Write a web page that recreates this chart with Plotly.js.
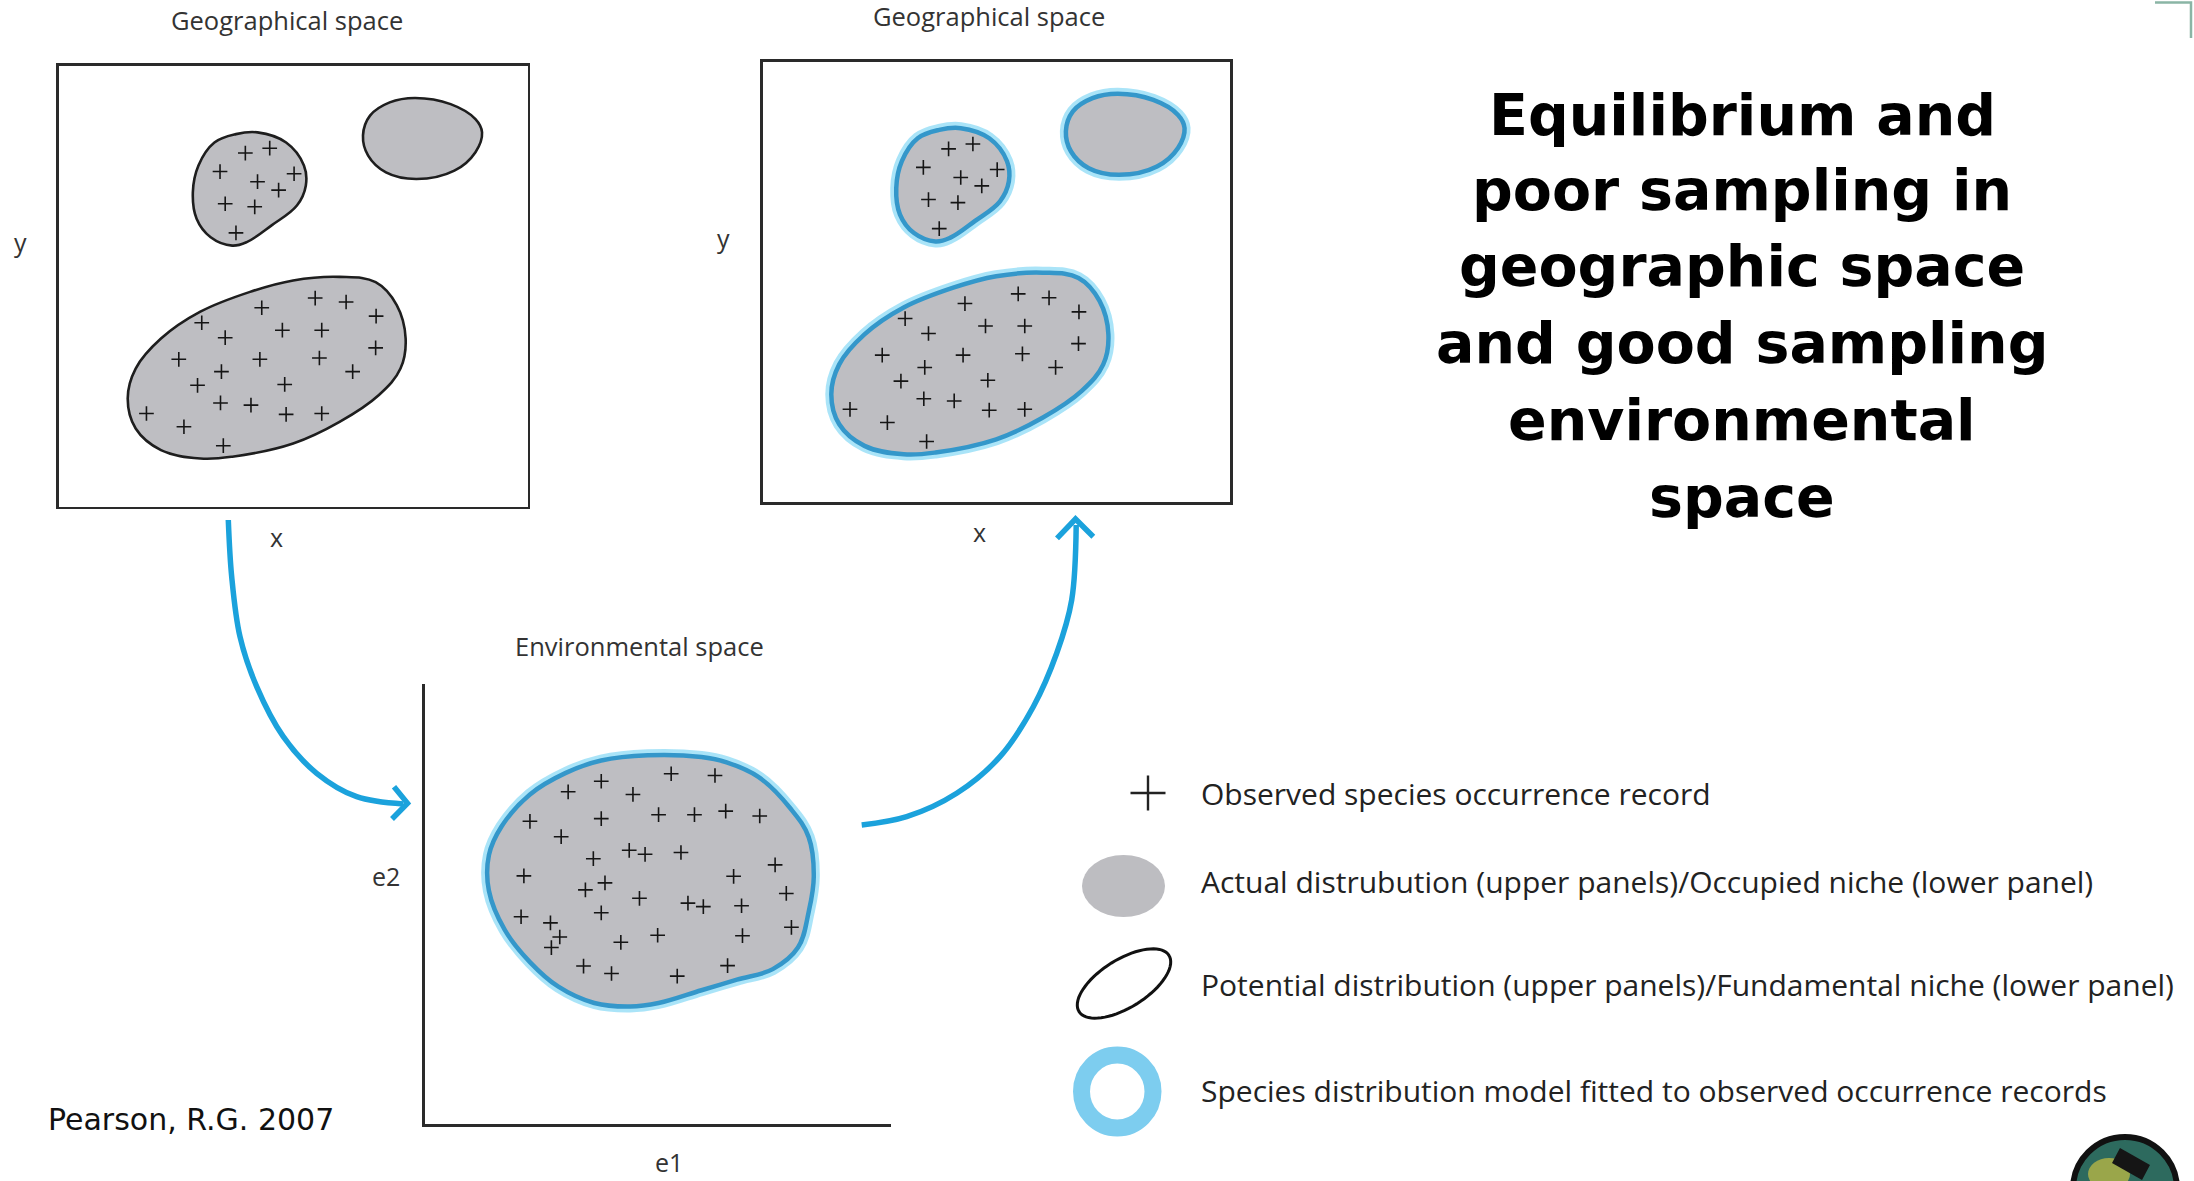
<!DOCTYPE html>
<html><head><meta charset="utf-8">
<script src="https://cdn.plot.ly/plotly-3.0.1.min.js"></script>
<style>html,body{margin:0;padding:0;background:#fff;}#chart{width:2194px;height:1181px;}</style>
</head><body><div id="chart"></div><script>
// ---- Geographical space (shared by both upper panels), units 0-100 ----
const geoSmallBlobX = [42.4,48.5,52.3,52.7,50.8,45.4,40.1,37.0,32.4,29.4,28.6,29.8,33.2,37.8];
const geoSmallBlobY = [84.9,82.6,77.4,72.8,68.3,63.8,60.0,59.2,61.1,65.3,71.3,77.4,82.6,84.5];
const geoEmptyBlobX = [76.0,83.6,88.9,90.3,88.9,84.4,76.3,69.8,66.0,64.9,66.4,70.6];
const geoEmptyBlobY = [92.7,91.3,87.9,84.9,80.4,76.2,74.3,75.8,79.6,84.2,88.7,91.7];
const geoBigBlobX = [59.9,67.6,72.1,74.0,72.9,68.3,59.9,50.0,37.0,30.2,21.8,16.4,14.7,16.4,21.8,30.2,40.8,50.0];
const geoBigBlobY = [52.1,50.9,45.7,38.1,31.3,25.3,19.2,14.3,11.3,10.9,12.8,17.7,24.5,31.3,38.1,44.2,48.7,51.3];
const geoRecordX = [39.8,45.0,34.4,50.2,42.4,46.9,35.5,41.8,37.8,
  54.7,61.3,43.3,67.7,30.5,47.7,56.1,35.5,67.6,25.6,42.9,55.6,34.7,62.7,29.6,48.2,34.5,41.0,48.5,56.1,18.7,26.7,35.1];
const geoRecordY = [80.2,81.3,76.0,75.5,73.7,71.8,68.7,68.0,62.1,
  47.3,46.4,45.1,43.2,41.7,40.0,40.0,38.3,36.0,33.4,33.4,33.7,30.6,30.6,27.5,27.7,23.5,23.0,20.9,21.1,21.1,18.1,13.8];

// ---- Environmental space (e1, e2), units 0-100 ----
const envBlobX = [47.9,59.4,64.8,71.6,78.5,82.4,83.5,82.4,80.1,74.7,67.0,59.4,50.2,44.1,36.4,28.7,22.6,17.2,13.8,13.8,16.5,22.6,30.3,37.9];
const envBlobY = [83.8,83.4,82.2,78.9,71.7,65.2,56.3,48.2,40.1,35.2,32.8,30.4,27.5,26.7,27.5,31.2,36.8,44.1,53.0,61.1,67.6,74.9,79.8,82.6];
const envRecordX = [52.9,62.3,37.9,30.8,44.7,22.6,37.9,50.2,57.9,64.6,71.9,29.3,36.2,43.9,47.3,55.0,75.2,21.3,66.3,34.5,38.7,46.1,56.5,59.8,68.0,77.6,20.7,37.9,27.0,29.0,27.2,42.1,50.0,68.2,78.7,34.1,40.1,54.2,65.0];
const envRecordY = [79.6,79.2,77.9,75.5,74.9,68.8,69.4,70.3,70.3,71.1,70.0,65.3,60.3,62.2,61.3,61.7,58.9,56.4,56.3,53.2,54.8,51.3,50.2,49.4,49.6,52.4,47.1,48.0,45.7,42.5,40.1,41.3,42.9,42.8,44.7,35.9,34.2,33.6,36.0];

// ---- Arrows (page pixel space) ----
const arrowDownX = [228.3,231.7,240.0,256.7,283.3,316.7,356.7,403.3];
const arrowDownY = [520.0,576.7,636.7,686.7,736.7,773.3,796.7,804.0];
const arrowDownHeadX = [394.0,407.5,392.0];
const arrowDownHeadY = [786.7,803.3,819.0];
const arrowUpX = [861.7,906.7,956.7,1000.0,1033.3,1056.7,1071.7,1076.2];
const arrowUpY = [825.0,816.7,793.3,756.7,706.7,653.3,600.0,525.0];
const arrowUpHeadX = [1057.0,1075.5,1093.3];
const arrowUpHeadY = [538.3,519.0,536.7];

// ---- Text ----
const titleLines = ["Equilibrium and","poor sampling in","geographic space","and good sampling","environmental","space"];
const legendLabels = [
  "Observed species occurrence record",
  "Actual distrubution (upper panels)/Occupied niche (lower panel)",
  "Potential distribution (upper panels)/Fundamental niche (lower panel)",
  "Species distribution model fitted to observed occurrence records"
];
const panelTitles = ["Geographical space","Geographical space","Environmental space"];
const citation = "Pearson, R.G. 2007";

// ---- styles ----
const GRAY = '#bebec2';
const BLUE_CORE = '#3497ca';
const BLUE_GLOW = 'rgba(100,205,242,0.55)';
const ARROW = '#1ba2dc';
const W = 2194, H = 1181;

function closed(a){ return a.concat([a[0]]); }
const traces = [];
const plusMarker = {symbol:'cross-thin',size:10.5,line:{width:1.6,color:'#151515'}};

const geoBlobs = [[geoSmallBlobX,geoSmallBlobY],[geoEmptyBlobX,geoEmptyBlobY],[geoBigBlobX,geoBigBlobY]];
// panel 1: black outlines
geoBlobs.forEach(b => traces.push({type:'scatter',mode:'lines',x:closed(b[0]),y:closed(b[1]),xaxis:'x',yaxis:'y',
  fill:'toself',fillcolor:GRAY,line:{shape:'spline',smoothing:1.1,color:'#1e1e1e',width:2.6},hoverinfo:'skip'}));
traces.push({type:'scatter',mode:'markers',x:geoRecordX,y:geoRecordY,xaxis:'x',yaxis:'y',marker:plusMarker,hoverinfo:'skip'});

function blueBlob(bx,by,xa,ya){
  traces.push({type:'scatter',mode:'lines',x:closed(bx),y:closed(by),xaxis:xa,yaxis:ya,
    line:{shape:'spline',smoothing:1.1,color:BLUE_GLOW,width:12},hoverinfo:'skip'});
  traces.push({type:'scatter',mode:'lines',x:closed(bx),y:closed(by),xaxis:xa,yaxis:ya,
    fill:'toself',fillcolor:GRAY,line:{shape:'spline',smoothing:1.1,width:0,color:GRAY},hoverinfo:'skip'});
  traces.push({type:'scatter',mode:'lines',x:closed(bx),y:closed(by),xaxis:xa,yaxis:ya,
    line:{shape:'spline',smoothing:1.1,color:BLUE_CORE,width:4.5},hoverinfo:'skip'});
}
geoBlobs.forEach(b => blueBlob(b[0],b[1],'x2','y2'));
traces.push({type:'scatter',mode:'markers',x:geoRecordX,y:geoRecordY,xaxis:'x2',yaxis:'y2',marker:plusMarker,hoverinfo:'skip'});

blueBlob(envBlobX,envBlobY,'x3','y3');
traces.push({type:'scatter',mode:'markers',x:envRecordX,y:envRecordY,xaxis:'x3',yaxis:'y3',marker:plusMarker,hoverinfo:'skip'});

// arrows
[[arrowDownX,arrowDownY],[arrowUpX,arrowUpY]].forEach(a => traces.push({type:'scatter',mode:'lines',x:a[0],y:a[1],
  xaxis:'x4',yaxis:'y4',line:{shape:'spline',smoothing:1,color:ARROW,width:5.5},hoverinfo:'skip'}));
[[arrowDownHeadX,arrowDownHeadY],[arrowUpHeadX,arrowUpHeadY]].forEach(a => traces.push({type:'scatter',mode:'lines',x:a[0],y:a[1],
  xaxis:'x4',yaxis:'y4',line:{color:ARROW,width:5.5},hoverinfo:'skip'}));
// legend plus
traces.push({type:'scatter',mode:'markers',x:[1148],y:[793],xaxis:'x4',yaxis:'y4',
  marker:{symbol:'cross-thin',size:25,line:{width:2.4,color:'#222'}},hoverinfo:'skip'});

function ax(domain, mirror, anchor){
  return {domain:domain,anchor:anchor,range:[0,100],showline:true,mirror:mirror,linecolor:'#2a2a2a',linewidth:2.6,
    showgrid:false,zeroline:false,showticklabels:false,ticks:'',fixedrange:true};
}

// rotated ellipse for legend icon
function ellipsePath(cx,cy,a,b,deg){
  const t = deg*Math.PI/180; let p='';
  for(let i=0;i<=72;i++){ const s=i/72*2*Math.PI; const x=a*Math.cos(s), y=b*Math.sin(s);
    const X=cx+x*Math.cos(t)-y*Math.sin(t), Y=cy+x*Math.sin(t)+y*Math.cos(t);
    p += (i?'L':'M')+X.toFixed(1)+','+Y.toFixed(1); }
  return p+'Z';
}

const ann = [];
function txt(x,y,text,size,opts){ ann.push(Object.assign({xref:'x4',yref:'y4',x:x,y:y,text:text,showarrow:false,
  xanchor:'center',yanchor:'middle',font:{family:'Open Sans, sans-serif',size:size,color:'#333'}},opts||{})); }

txt(287,20,panelTitles[0],25.5);
txt(989,16,panelTitles[1],25.5);
txt(639,646,panelTitles[2],25.5);
txt(20,242,'y',25); txt(723,238,'y',25);
txt(276,537,'x',25); txt(979,532,'x',25);
txt(386,876,'e2',25); txt(669,1162,'e1',25);
const legendY = [793,881,984,1090];
legendLabels.forEach((t,i)=>txt(1199,legendY[i],t,30,{xanchor:'left',font:{family:'Open Sans, sans-serif',size:30,color:'#222'}}));
const titleY = [114.7,190.3,265.8,342.8,419.8,496.7];
titleLines.forEach((t,i)=>txt(1742,titleY[i],t,57,{font:{family:'DejaVu Sans, sans-serif',size:57,color:'#000',weight:700}}));
txt(46,1119,citation,30,{xanchor:'left',font:{family:'DejaVu Sans, sans-serif',size:30,color:'#111'}});

const layout = {
  width:W,height:H,margin:{l:0,r:0,t:0,b:0},paper_bgcolor:'#fff',plot_bgcolor:'rgba(0,0,0,0)',showlegend:false,
  xaxis:ax([58.8/W,527.5/W],true,'y'), yaxis:ax([1-506.5/H,1-65.8/H],true,'x'),
  xaxis2:ax([762.6/W,1229.9/W],true,'y2'), yaxis2:ax([1-502.3/H,1-61.6/H],true,'x2'),
  xaxis3:ax([424.6/W,890.7/W],false,'y3'), yaxis3:ax([1-1124/H,1-684/H],false,'x3'),
  xaxis4:{domain:[0,1],anchor:'y4',range:[0,W],visible:false,fixedrange:true},
  yaxis4:{domain:[0,1],anchor:'x4',range:[H,0],visible:false,fixedrange:true},
  annotations:ann,
  shapes:[
    {type:'circle',xref:'x4',yref:'y4',x0:1082,x1:1165,y0:855,y1:917,fillcolor:'#bdbdc1',line:{width:0}},
    {type:'path',xref:'x4',yref:'y4',path:ellipsePath(1124,983.5,53,24,-32),line:{color:'#111',width:3}},
    {type:'circle',xref:'x4',yref:'y4',x0:1081.5,x1:1153,y0:1055,y1:1128,line:{color:'#7dcdef',width:17}},
    {type:'path',xref:'x4',yref:'y4',path:'M2155,2.5L2191,2.5L2191,38',line:{color:'#8ab5a5',width:2.5}},
    {type:'circle',xref:'x4',yref:'y4',x0:2073,x1:2177,y0:1137,y1:1241,fillcolor:'#2d6a5e',line:{color:'#111',width:6}},
    {type:'circle',xref:'x4',yref:'y4',x0:2088,x1:2130,y0:1158,y1:1190,fillcolor:'#9aa64a',line:{width:0}},
    {type:'path',xref:'x4',yref:'y4',path:'M2120,1148L2150,1165L2142,1180L2112,1163Z',fillcolor:'#151515',line:{width:0}}
  ]
};
Plotly.newPlot('chart',traces,layout,{staticPlot:true,displayModeBar:false});
</script></body></html>
